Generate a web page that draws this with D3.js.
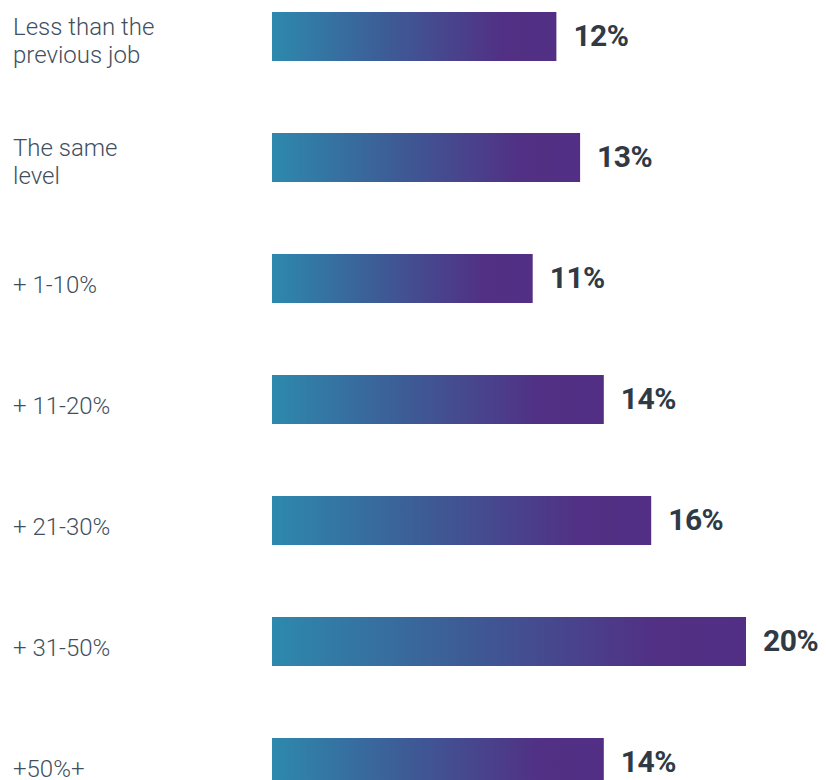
<!DOCTYPE html>
<html>
<head>
<meta charset="utf-8">
<script src="https://cdn.jsdelivr.net/npm/d3@7"></script>
<style>
  html, body { margin: 0; padding: 0; background: #fff; }
  svg { display: block; }
</style>
</head>
<body>
<div id="grafico"></div>
<script>
// dados do gráfico
const categorias = ['Less than the previous job', 'The same level', '+ 1-10%', '+ 11-20%', '+ 21-30%', '+ 31-50%', '+50%+'];
const rotulos = [['Less than the', 'previous job'], ['The same', 'level'], ['+ 1-10%'], ['+ 11-20%'], ['+ 21-30%'], ['+ 31-50%'], ['+50%+']];
const valores = [12, 13, 11, 14, 16, 20, 14];

const largura = 826, altura = 780;

const svg = d3.select('#grafico')
    .append('svg')
    .attr('width', largura)
    .attr('height', altura);

// gradiente de cada barra (azul -> roxo)
const grad = svg.append('defs')
    .append('linearGradient')
    .attr('id', 'grad-barra')
    .attr('x1', '0%').attr('x2', '100%')
    .attr('y1', '0%').attr('y2', '0%');
grad.append('stop').attr('offset', '0%').attr('stop-color', '#2d89ad');
grad.append('stop').attr('offset', '40%').attr('stop-color', '#3d5c96');
grad.append('stop').attr('offset', '80%').attr('stop-color', '#513185');
grad.append('stop').attr('offset', '100%').attr('stop-color', '#522f84');

// escalas
const x = d3.scaleLinear()
    .domain([0, 20])
    .range([272, 746]);

const y = d3.scaleBand()
    .domain(categorias)
    .range([12, 787])
    .paddingInner(72 / 121)
    .paddingOuter(0);

const linhas = svg.selectAll('g.linha')
    .data(categorias)
    .enter()
    .append('g')
    .attr('class', 'linha');

// barras
linhas.append('rect')
    .attr('x', x(0))
    .attr('y', d => y(d))
    .attr('width', (d, i) => x(valores[i]) - x(0))
    .attr('height', y.bandwidth())
    .attr('fill', 'url(#grad-barra)');

// valores
linhas.append('text')
    .attr('x', (d, i) => x(valores[i]) + 17)
    .attr('y', d => y(d) + y.bandwidth() / 2 + 9)
    .style('font-family', 'Roboto, sans-serif')
    .style('font-weight', '700')
    .style('font-size', '30px')
    .style('letter-spacing', '-0.5px')
    .style('fill', '#2f3a45')
    .text((d, i) => valores[i] + '%');

// rótulos das categorias
linhas.append('text')
    .attr('x', 13)
    .attr('y', (d, i) => y(d) + y.bandwidth() / 2 + 14 - (rotulos[i].length - 1) * 16)
    .style('font-family', 'Roboto, sans-serif')
    .style('font-weight', '300')
    .style('font-size', '24px')
    .style('fill', '#3f4f5d')
    .each(function (d, i) {
        d3.select(this).selectAll('tspan')
            .data(rotulos[i])
            .enter()
            .append('tspan')
            .attr('x', 13)
            .attr('dy', (t, j) => j === 0 ? 0 : 28)
            .text(t => t);
    });
</script>
</body>
</html>
